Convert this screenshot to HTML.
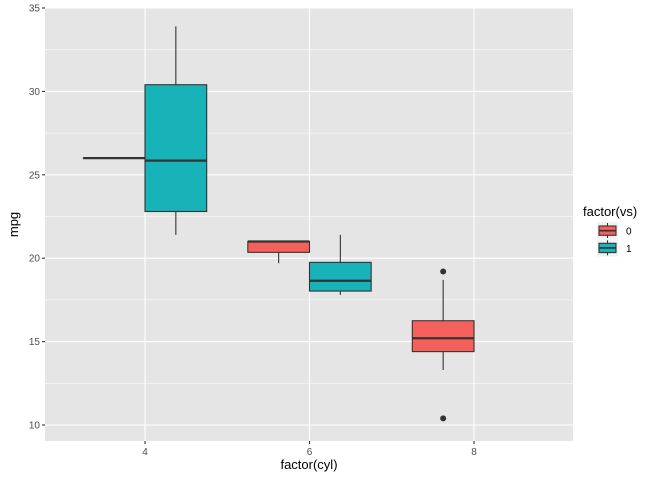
<!DOCTYPE html>
<html><head><meta charset="utf-8"><style>body{margin:0;background:#fff}svg{font-family:"Liberation Sans",sans-serif}</style></head><body>
<svg id="c" width="672" height="480"></svg>
<script>
const cyls=[4,6,8];
const tickY=[10,15,20,25,30,35];
const minorY=[12.5,17.5,22.5,27.5,32.5];
const groupCyl=[4,4,6,6,8];
const groupVs=[0,1,0,1,0];
const lowW=[26,21.4,19.7,17.8,13.3];
const q1=[26,22.8,20.35,18.03,14.4];
const med=[26,25.85,21.0,18.65,15.2];
const q3=[26,30.4,21.0,19.75,16.25];
const highW=[26,33.9,21.0,21.4,18.7];
const outGroup=[4,4];
const outVal=[19.2,10.4];
const fills=['#F6605A','#17B3B8'];
const NS='http://www.w3.org/2000/svg';
const svg=document.getElementById('c');
const L=45,R=573,T=8,B=441;
const xs=v=>145+(v-4)*82.25;
const ys=v=>425-(v-10)*16.68;
function el(t,a,p){const e=document.createElementNS(NS,t);for(const k in a)e.setAttribute(k,a[k]);(p||svg).appendChild(e);return e;}
const bg=el('rect',{x:L,y:T,width:R-L,height:B-T,fill:'#E5E5E5'});


minorY.forEach(v=>{const l=el('line',{x1:L,x2:R,y1:ys(v),y2:ys(v),stroke:'#fff','stroke-width':0.5});

});
tickY.forEach(v=>{const l=el('line',{x1:L,x2:R,y1:ys(v),y2:ys(v),stroke:'#fff','stroke-width':1.1});


const tk=el('line',{x1:L-3,x2:L,y1:ys(v),y2:ys(v),stroke:'#333','stroke-width':1.1});


const t=el('text',{x:L-5,y:ys(v)+3.5,'text-anchor':'end','font-size':10,fill:'#4D4D4D'});t.textContent=v;

});
cyls.forEach(v=>{const l=el('line',{x1:xs(v),x2:xs(v),y1:T,y2:B,stroke:'#fff','stroke-width':1.1});


const tk=el('line',{x1:xs(v),x2:xs(v),y1:B,y2:B+3,stroke:'#333','stroke-width':1.1});


const t=el('text',{x:xs(v),y:B+14,'text-anchor':'middle','font-size':10,fill:'#4D4D4D'});t.textContent=v;

});
const hw=0.375*82.25;
for(let i=0;i<groupCyl.length;i++){
 const c=xs(groupCyl[i])+(groupVs[i]===0?-hw:hw);
 const g=el('g',{});
 
 
 el('line',{x1:c,x2:c,y1:ys(lowW[i]),y2:ys(highW[i]),stroke:'#333','stroke-width':1.1},g);
 el('rect',{x:c-hw,y:ys(q3[i]),width:2*hw,height:Math.max(ys(q1[i])-ys(q3[i]),0.01),fill:fills[groupVs[i]],stroke:'#333','stroke-width':1.1},g);
 el('line',{x1:c-hw,x2:c+hw,y1:ys(med[i]),y2:ys(med[i]),stroke:'#333','stroke-width':2.2},g);
}
for(let i=0;i<outGroup.length;i++){
 const p=el('circle',{cx:xs(outGroup[i]*2)-hw,cy:ys(outVal[i]),r:3,fill:'#333'});
 
 
}
const xt=el('text',{x:(L+R)/2,y:469,'text-anchor':'middle','font-size':13,fill:'#000'});xt.textContent='factor(cyl)';


const yt=el('text',{x:0,y:0,'text-anchor':'middle','font-size':13,fill:'#000',transform:'translate(18,'+((T+B)/2)+') rotate(-90)'});yt.textContent='mpg';


const lt=el('text',{x:583,y:216,'font-size':13,fill:'#000'});lt.textContent='factor(vs)';


[0,1].forEach(k=>{const y0=222+k*17.3;const g=el('g',{});


el('rect',{x:597,y:y0,width:21,height:17.3,fill:'#F2F2F2'},g);
el('line',{x1:607.5,x2:607.5,y1:y0+1,y2:y0+16,stroke:'#333','stroke-width':1.1},g);
el('rect',{x:599,y:y0+4,width:17,height:9.3,fill:fills[k],stroke:'#333','stroke-width':1.1},g);
el('line',{x1:599,x2:616,y1:y0+8.65,y2:y0+8.65,stroke:'#333','stroke-width':1.6},g);
const t=el('text',{x:626,y:y0+12.5,'font-size':10,fill:'#000'},g);t.textContent=k;});
</script>
</body></html>
